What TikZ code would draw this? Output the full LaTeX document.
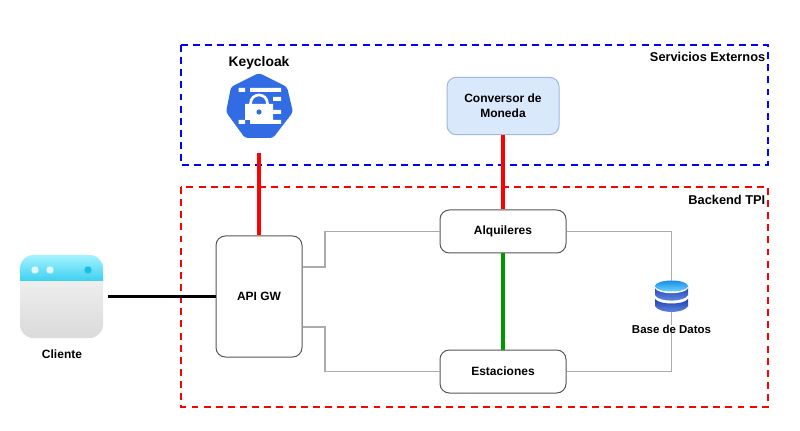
\documentclass[tikz,border=0pt]{standalone}
\usepackage{fontspec}
\setmainfont{Liberation Sans}
\definecolor{kcblue}{HTML}{326CE5}
\definecolor{greyline}{HTML}{ABABAB}
\definecolor{boxline}{HTML}{555555}
\definecolor{convfill}{HTML}{DAE8FC}
\definecolor{convline}{HTML}{9EB8DC}
\definecolor{cyantop}{HTML}{A5F3FF}
\definecolor{cyanbot}{HTML}{3CD0F0}
\definecolor{greytop}{HTML}{EEEEEE}
\definecolor{greybot}{HTML}{DADADA}
\definecolor{clidot}{HTML}{1EBEE4}
\definecolor{dbdark}{HTML}{1C3FB0}
\definecolor{dbsoft}{HTML}{6C90E4}
\definecolor{dbtop}{HTML}{1A8CE8}
\definecolor{dblight}{HTML}{6CD4FA}
\definecolor{greenlink}{HTML}{009900}
\tikzset{
  zone/.style={draw=#1,line width=1.7pt,dash pattern=on 5.2pt off 3.9pt},
  svc/.style={draw=boxline,line width=0.75pt,fill=white,rounded corners=7pt,font=\bfseries\fontsize{9}{11.5}\selectfont,align=center,inner sep=0pt},
  lbl/.style={font=\bfseries\fontsize{#1}{11}\selectfont,inner sep=0pt},
  lbl/.default=9,
  link/.style={draw=greyline,line width=1.25pt},
  strong/.style={line width=2.3pt},
  anchorbox/.style={inner sep=0pt,minimum width=#1,minimum height=#1}
}
\begin{document}
\begin{tikzpicture}[x=0.75pt,y=-0.75pt]
\useasboundingbox[fill=white] (0,0) rectangle (800,431);
% zones
\draw[zone=blue] (181,45) rectangle (768,165);
\draw[zone=red] (181,187) rectangle (768,407);
\node[lbl=9.6,anchor=east] (ext) at (765.5,57) {Servicios Externos};
\node[lbl=9.6,anchor=east] (back) at (765.5,199.5) {Backend TPI};
\coordinate (apicentre) at (259,296.5);
\coordinate (kcend) at (259,153);
\coordinate (cliend) at (108,296.5);
\coordinate (ga) at (325,267);
\coordinate (gb) at (325,327);
% boxes
\node[svc,minimum width=64.5pt,minimum height=90.75pt] (api) at (apicentre) {API GW};
\node[svc,minimum width=94.5pt,minimum height=32.25pt] (alq) at (503,231.5) {Alquileres};
\node[svc,minimum width=94.5pt,minimum height=32.25pt] (est) at (503,371.5) {Estaciones};
\node[svc,fill=convfill,draw=convline,minimum width=84pt,minimum height=43pt] (conv) at (503,106) {Conversor de\\Moneda};
% icon anchors
\node[anchorbox=25pt] (kc) at (259,106) {};
\node[anchorbox=62.25pt] (cli) at (61.5,296.5) {};
\node[inner sep=0pt,minimum width=25.5pt,minimum height=23.5pt] (db) at (671.5,296.5) {};
\node[lbl=10.4] (kclabel) at (259,62.5) {Keycloak};
\node[lbl] (clilabel) at (62,354) {Cliente};
\node[lbl=8.6] (dblabel) at (671.5,329) {Base de Datos};
% connectors
\draw[strong,red] (kcend) -- (api.north);
\draw[strong,red] (conv.south) -- (alq.north);
\draw[strong,greenlink] (alq.south) -- (est.north);
\draw[line width=1.6pt,black] (cliend) -- (api.west);
\draw[link] (api.east |- ga) -- (ga) |- (alq.west);
\draw[link] (api.east |- gb) -- (gb) |- (est.west);
\draw[link] (alq.east) -| (db.north);
\draw[link] (est.east) -| (dblabel.south);
\draw[link] (db.south) -- (dblabel.north);
% Keycloak icon
\fill[kcblue,rounded corners=2.2pt] (259,73) -- (287,87) -- (293,112) -- (273,138) -- (245,138) -- (226,112) -- (231,87) -- cycle;
\fill[white] (238.5,88) rectangle (245,92) (250,88) rectangle (281,92)
  (273,97) rectangle (281,101) (273,110) rectangle (281,114)
  (238.5,120) rectangle (245,124) (250,120) rectangle (281,124)
  (245,104) rectangle (273,120);
\draw[white,line width=2pt] (250.5,104) .. controls (250.5,92) and (267.5,92) .. (267.5,104);
\fill[kcblue] (259,112) circle[radius=2.6];
% Client icon
\begin{scope}
\clip[rounded corners=10pt] (20,255) rectangle (103,338);
\shade[top color=cyantop,bottom color=cyanbot] (20,255) rectangle (103,281);
\shade[top color=greytop,bottom color=greybot] (20,281) rectangle (103,338);
\end{scope}
\fill[white,opacity=.8] (35,270) circle[radius=3.7] (50,270) circle[radius=3.7];
\fill[clidot] (88,270) circle[radius=3.7];
% DB icon
\shade[top color=dbdark,bottom color=dbsoft] (655,299) .. controls (659,305) and (684,305) .. (688,299) -- (688,306) .. controls (684,314) and (659,314) .. (655,306) -- cycle;
\shade[top color=dbdark,bottom color=dbsoft] (655,286) -- (688,286) -- (688,295) .. controls (684,302.5) and (659,302.5) .. (655,295) -- cycle;
\fill[white] (654.5,286) .. controls (658,293) and (685,293) .. (688.5,286) -- (688,288) .. controls (685,295) and (658,295) .. (655,288) -- cycle;
\shade[top color=dbtop,bottom color=dblight] (671.5,286) ellipse[x radius=16.5,y radius=5.5];
\end{tikzpicture}
\end{document}
